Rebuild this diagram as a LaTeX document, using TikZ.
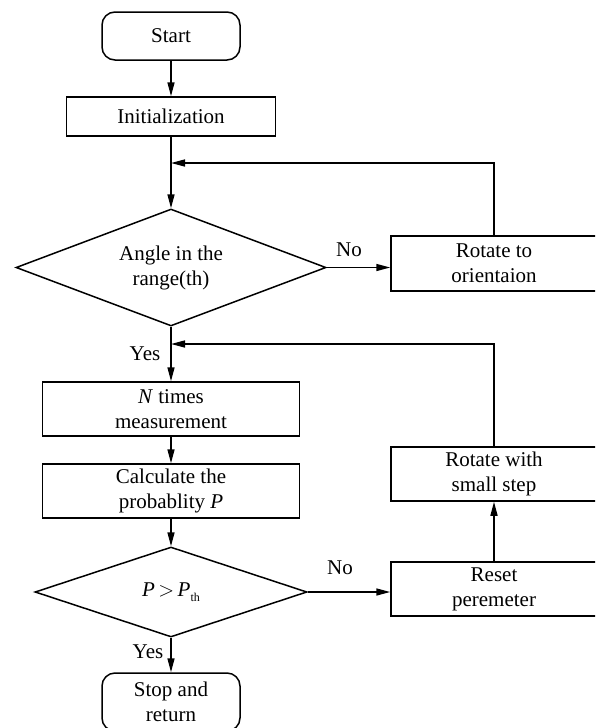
\documentclass[tikz,border=0pt]{standalone}
\usepackage{fontspec}
\setmainfont{Liberation Serif}
\usetikzlibrary{shapes.geometric,arrows.meta}
\begin{document}
\begin{tikzpicture}[x=1pt,y=-1pt,
 every node/.style={font=\fontsize{21}{25}\selectfont},
 procbox/.style={draw, line width=1.5pt, inner sep=0pt, align=center},
 termbox/.style={procbox, rounded corners=13pt},
 decbox/.style={draw, line width=1.5pt, diamond, inner sep=0pt, align=center},
 flow/.style={line width=1.5pt, -{Triangle[length=14pt,width=7pt]}},
 lbl/.style={inner sep=0pt}]
\useasboundingbox (0,0) rectangle (595,728);
\clip (0,0) rectangle (595,728);
% main column
\node[termbox, minimum width=138pt, minimum height=48pt] (start) at (171,36) {Start};
\node[procbox, minimum width=209pt, minimum height=39pt] (init) at (171,116.5) {Initialization};
\node[decbox, shape aspect=2.7, minimum width=310pt, minimum height=117pt] (d1) at (171,267.5) {Angle in the\\range(th)};
\node[procbox, minimum width=257pt, minimum height=54pt] (ntimes) at (171,409) {\textit{N} times\\measurement};
\node[procbox, minimum width=257pt, minimum height=54pt] (calc) at (171,491) {Calculate the\\probablity \textit{P}};
\node[decbox, shape aspect=3.0, minimum width=272pt, minimum height=90pt] (d2) at (171,592) {\textit{P}\,$>$\,\textit{P}\raisebox{-5pt}{\fontsize{12}{12}\selectfont th}};
\node[termbox, minimum width=138pt, minimum height=58pt] (stop) at (171,702) {Stop and\\return};
% right column
\node[procbox, minimum width=206pt, minimum height=55pt] (rot1) at (494,263.5) {Rotate to\\orientaion};
\node[procbox, minimum width=206pt, minimum height=54pt] (rss) at (494,474) {Rotate with\\small step};
\node[procbox, minimum width=206pt, minimum height=54pt] (reset) at (494,589) {Reset\\peremeter};
% merge points
\coordinate (m1) at (171,163);
\coordinate (m2) at (171,344);
% connectors
\draw[flow] (start) -- (init);
\draw[flow] (init) -- (d1.north);
\draw[flow] (rot1.north) |- (m1);
\draw[flow] (d1.east) -- (d1.east -| rot1.west);
\node[lbl] (no1) at (349,250) {No};
\draw[flow] (d1.south) -- (ntimes.north);
\node[lbl] (yes1) at (145,354) {Yes};
\draw[flow] (rss.north) |- (m2);
\draw[flow] (ntimes) -- (calc);
\draw[flow] (calc) -- (d2.north);
\draw[flow] (d2.east) -- (d2.east -| reset.west);
\node[lbl] (no2) at (340,568) {No};
\draw[flow] (reset) -- (rss);
\draw[flow] (d2.south) -- (stop.north);
\node[lbl] (yes2) at (148,652) {Yes};
\end{tikzpicture}
\end{document}
